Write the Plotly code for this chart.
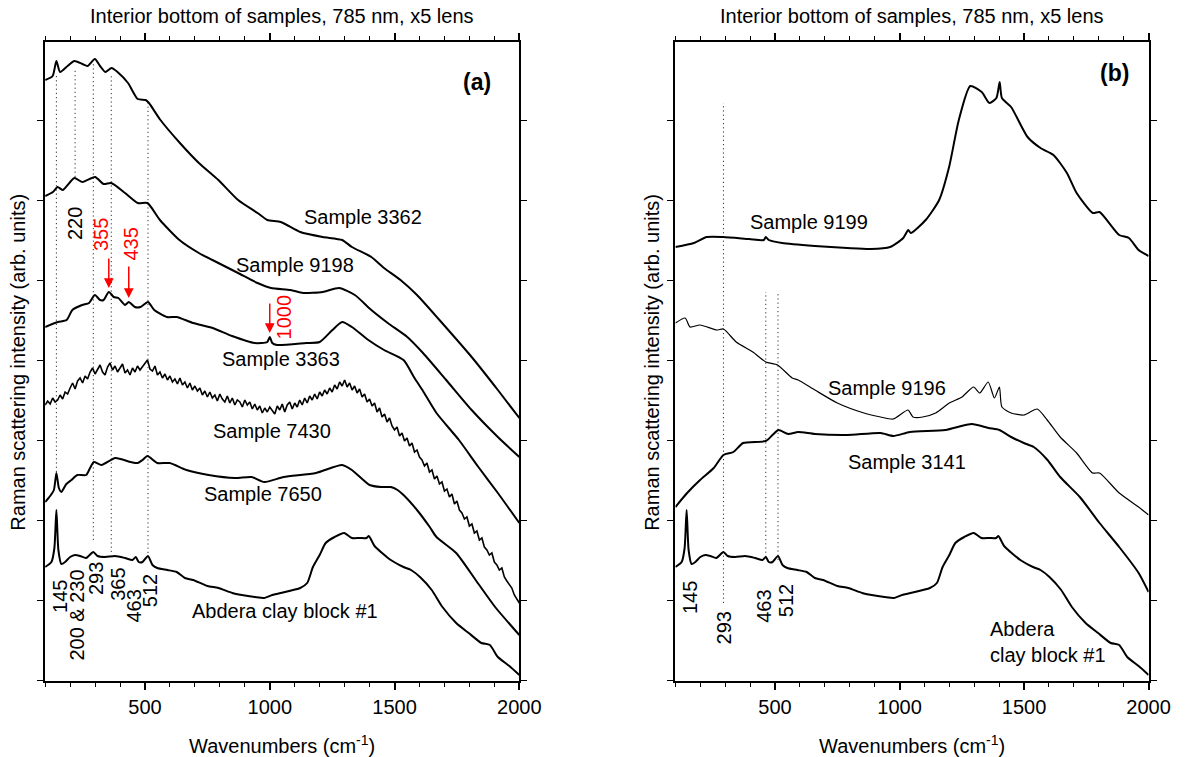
import plotly.graph_objects as go

FONT = "Arial, Liberation Sans, sans-serif"

# ---------------- Panel (a) data : wavenumber (cm-1) / intensity (arb. units)
x_3362 = [100, 130, 145, 160, 190, 217, 249, 270, 299, 320, 341, 366, 390, 432, 471, 503, 516, 562, 640, 716,
          794, 873, 951, 990, 1044, 1122, 1212, 1290, 1329, 1407, 1458, 1524, 1590, 1680, 1809, 1914, 2000]
y_3362 = [601, 605, 620, 609, 615, 620, 617, 615, 622, 615, 609, 613, 609, 598, 582, 581, 578, 561, 538, 518,
          501, 481, 468, 461, 459, 449, 444, 441, 434, 424, 413, 401, 386, 361, 324, 291, 263]

x_9198 = [100, 131, 150, 170, 217, 248, 300, 334, 365, 420, 471, 510, 560, 638, 716, 794, 873, 951, 1005, 1083,
          1134, 1212, 1278, 1341, 1407, 1473, 1551, 1614, 1707, 1809, 1914, 2000]
y_9198 = [485, 489, 494, 491, 503, 499, 504, 497, 498, 488, 478, 478, 461, 441, 428, 418, 408, 398, 393, 391,
          388, 389, 393, 386, 371, 358, 344, 328, 301, 271, 244, 224]

x_3363 = [100, 151, 186, 209, 248, 276, 299, 320, 334, 355, 375, 393, 420, 435, 459, 482, 512, 537, 588, 627,
          693, 771, 849, 939, 990, 1000, 1010, 1029, 1146, 1200, 1251, 1290, 1329, 1395, 1458, 1536, 1580, 1614,
          1668, 1758, 1836, 1914, 2000]
y_3363 = [354, 359, 361, 371, 376, 378, 386, 381, 381, 389, 384, 383, 376, 379, 374, 374, 379, 371, 364, 364,
          358, 353, 345, 338, 339, 344, 338, 336, 338, 339, 351, 359, 354, 341, 331, 321, 303, 290,
          268, 241, 214, 188, 158]

x_7430 = [100, 110, 120, 130, 140, 150, 160, 170, 180, 190, 200, 210, 220, 230, 240, 250, 260, 270, 280, 290,
          300, 310, 320, 330, 340, 350, 360, 370, 380, 390, 400, 410, 420, 430, 440, 450, 460, 470, 480, 490,
          500, 510, 520, 530, 540, 550, 560, 570, 580, 590, 600, 610, 620, 630, 640, 650, 660, 670, 680, 690,
          700, 710, 720, 730, 740, 750, 760, 770, 780, 790, 800, 810, 820, 830, 840, 850, 860, 870, 880, 890,
          900, 910, 920, 930, 940, 950, 960, 970, 980, 990, 1000, 1010, 1020, 1030, 1040, 1050, 1060, 1070,
          1080, 1090, 1100, 1110, 1120, 1130, 1140, 1150, 1160, 1170, 1180, 1190, 1200, 1210, 1220, 1230, 1240,
          1250, 1260, 1270, 1280, 1290, 1300, 1310, 1320, 1330, 1340, 1350, 1360, 1370, 1380, 1390, 1400, 1410,
          1420, 1430, 1440, 1450, 1460, 1470, 1480, 1490, 1500, 1510, 1520, 1530, 1540, 1550, 1560, 1570, 1580,
          1590, 1600, 1610, 1620, 1630, 1640, 1650, 1660, 1670, 1680, 1690, 1700, 1710, 1720, 1730, 1740, 1750,
          1760, 1770, 1780, 1790, 1800, 1810, 1820, 1830, 1840, 1850, 1860, 1870, 1880, 1890, 1900, 1910, 1920,
          1930, 1940, 1950, 1960, 1970, 1980, 1990, 2000]
y_7430 = [276, 280, 277, 283, 279, 281, 286, 282, 289, 287, 293, 298, 292, 300, 303, 298, 305, 302, 309, 313,
          307, 312, 316, 309, 306, 314, 318, 311, 315, 309, 313, 317, 308, 311, 306, 313, 309, 315, 311, 314,
          318, 321, 312, 310, 315, 306, 309, 303, 307, 301, 305, 299, 302, 297, 303, 296, 299, 293, 298, 291,
          295, 290, 293, 286, 290, 284, 289, 283, 286, 280, 287, 282, 279, 285, 278, 283, 276, 281, 279, 274,
          281, 276, 279, 272, 277, 271, 275, 268, 273, 269, 274, 270, 267, 275, 271, 277, 269, 276,
          279, 272, 278, 274, 281, 276, 283, 278, 285, 281, 287, 282, 289, 285, 291, 287, 293,
          289, 296, 292, 299, 295, 301, 294, 298, 291, 295, 288, 292, 284, 287, 279, 282, 275,
          278, 269, 273, 264, 267, 259, 263, 255, 251, 254, 245, 248, 240, 243, 235, 238, 229,
          231, 224, 221, 215, 218, 209, 211, 202, 205, 197, 199, 190, 192, 184, 187, 177, 180,
          171, 168, 162, 164, 155, 157, 148, 150, 141, 143, 134, 131, 126, 128, 119, 116, 111,
          113, 104, 100, 96, 93, 86, 82, 78]

x_7650 = [100, 120, 135, 145, 155, 165, 185, 205, 229, 264, 280, 295, 326, 381, 443, 471, 490, 510, 549, 599,
          666, 755, 861, 927, 978, 1056, 1185, 1290, 1329, 1400, 1446, 1485, 1512, 1536, 1590, 1641, 1668, 1747,
          1825, 1903, 2000]
y_7650 = [179, 185, 191, 208, 193, 189, 197, 201, 206, 206, 213, 219, 216, 223, 219, 218, 221, 225, 218, 218,
          211, 206, 203, 204, 199, 204, 208, 216, 211, 196, 194, 194, 191, 186, 171, 154, 144, 128,
          101, 74, 46]

# Abdera clay block #1 (same spectrum in both panels)
x_abd = [100, 125, 137, 145, 153, 165, 180, 200, 220, 240, 264, 293, 310, 340, 380, 420, 450, 463, 475, 490,
         512, 530, 549, 590, 627, 660, 693, 750, 794, 850, 888, 940, 978, 1010, 1044, 1122, 1150, 1173, 1200,
         1224, 1260, 1298, 1329, 1360, 1388, 1397, 1420, 1485, 1536, 1566, 1602, 1649, 1692, 1747, 1797, 1848,
         1882, 1914, 1960, 2000]
y_abd = [114, 119, 133, 171, 131, 117, 119, 124, 126, 125, 123, 129, 125, 124, 125, 123, 121, 124, 119, 119,
         125, 116, 113, 111, 109, 103, 101, 95, 93, 88, 86, 84, 83, 86, 88, 93, 98, 114, 126,
         138, 144, 148, 143, 143, 143, 145, 135, 121, 114, 111, 104, 91, 74, 58, 48, 38,
         36, 24, 15, 6]

# ---------------- Panel (b) data
x_9199 = [100, 174, 226, 292, 396, 455, 463, 475, 528, 660, 790, 883, 962, 1015, 1035, 1045, 1105, 1159, 1199,
          1238, 1284, 1330, 1361, 1389, 1402, 1411, 1448, 1514, 1566, 1618, 1672, 1711, 1776, 1803, 1882, 1921,
          1960, 2000]
y_9199 = [434, 438, 444, 444, 442, 441, 444, 441, 438, 435, 433, 432, 434, 443, 451, 448, 461, 481, 514,
          561, 595, 589, 578, 583, 599, 583, 574, 544, 533, 526, 508, 488, 468, 469, 446, 443,
          431, 425]

x_9196 = [100, 139, 159, 199, 266, 293, 344, 411, 463, 510, 569, 593, 660, 750, 857, 924, 975, 1034, 1054, 1093,
          1145, 1200, 1251, 1297, 1322, 1356, 1381, 1401, 1411, 1448, 1499, 1553, 1593, 1645, 1711, 1775, 1803,
          1882, 1960, 2000]
y_9196 = [358, 363, 354, 356, 351, 352, 339, 329, 319, 316, 303, 301, 291, 278, 268, 264, 262, 271, 264, 264,
          268, 278, 284, 294, 288, 299, 283, 294, 274, 268, 266, 272, 261, 244, 228, 208, 208,
          188, 174, 166]

x_3141 = [100, 147, 199, 254, 293, 333, 372, 463, 490, 514, 553, 593, 660, 790, 924, 975, 1042, 1184, 1290, 1357,
          1401, 1448, 1499, 1539, 1594, 1645, 1724, 1803, 1882, 1960, 2000]
y_3141 = [174, 188, 201, 213, 226, 229, 238, 240, 246, 251, 247, 249, 247, 246, 248, 245, 249, 251, 257, 253,
          251, 244, 238, 234, 221, 204, 184, 158, 134, 108, 89]

# ---------------- Marker lines (peak positions) and labels
peaks_a = [145, 220, 293, 365, 512]
peaks_a_top = [608, 613, 618, 606, 578]
peaks_a_bot = [209, 504, 141, 129, 128]

peaks_b = [293, 463, 512]
peaks_b_top = [578, 389, 389]
peaks_b_bot = [78, 124, 121]

labels_a_text = ["220", "145", "200 & 230", "293", "365", "463", "512"]
labels_a_x = [220, 159, 226, 304, 391, 458, 521]
labels_a_y = [457, 85, 66, 102, 97, 75, 90]

red_text = ["355", "435", "1000"]
red_text_x = [324, 442, 1059]
red_text_y = [446, 437, 364]
red_arrow_x = [355, 435, 1000]
red_arrow_tail = [424, 416, 379]
red_arrow_tip = [393, 383, 348]

labels_b_text = ["145", "293", "463", "512"]
labels_b_x = [159, 297, 455, 545]
labels_b_y = [83, 53, 75, 80]

names_a = ["Sample 3362", "Sample 9198", "Sample 3363", "Sample 7430", "Sample 7650", "Abdera clay block #1"]
names_a_x = [1374, 1103, 1044, 1008, 973, 1063]
names_a_y = [464, 416, 322, 250, 187, 70]

names_b = ["Sample 9199", "Sample 9196", "Sample 3141"]
names_b_x = [636, 951, 1030]
names_b_y = [459, 293, 219]

W, H = 1202, 757
fig = go.Figure()

def line(x, y, xa, ya, w=2.0, shape="spline"):
    ln = dict(color="black", width=w, shape=shape)
    if shape == "spline":
        ln["smoothing"] = 0.6
    fig.add_trace(go.Scatter(x=x, y=y, mode="lines", xaxis=xa, yaxis=ya,
                             line=ln, showlegend=False, hoverinfo="skip"))

def dots(pk, top, bot, xa, ya):
    for p, t, b in zip(pk, top, bot):
        fig.add_trace(go.Scatter(x=[p, p], y=[b, t], mode="lines", xaxis=xa, yaxis=ya,
                                 line=dict(color="#333", width=1, dash="1.2px,3px"),
                                 showlegend=False, hoverinfo="skip"))

dots(peaks_a, peaks_a_top, peaks_a_bot, "x", "y")
dots(peaks_b, peaks_b_top, peaks_b_bot, "x2", "y2")

line(x_3362, y_3362, "x", "y")
line(x_9198, y_9198, "x", "y")
line(x_3363, y_3363, "x", "y")
line(x_7430, y_7430, "x", "y", 1.6, "linear")
line(x_7650, y_7650, "x", "y")
line(x_abd, y_abd, "x", "y")

line(x_9199, y_9199, "x2", "y2")
line(x_9196, y_9196, "x2", "y2", 1.2)
line(x_3141, y_3141, "x2", "y2")
line(x_abd, y_abd, "x2", "y2")

px = lambda v: v / W
py = lambda v: 1 - v / H

xcommon = dict(range=[100, 2000], tickvals=[500, 1000, 1500, 2000], ticks="outside", ticklen=7, tickwidth=1.5,
               tickcolor="black", showline=True, linecolor="black", linewidth=2, mirror="ticks",
               showgrid=False, zeroline=False, tickfont=dict(family=FONT, size=20, color="black"),
               minor=dict(dtick=100, tick0=0, ticks="outside", ticklen=4, tickwidth=1.2, tickcolor="black"))
ycommon = dict(range=[0, 639], tick0=1, dtick=80, ticks="outside", ticklen=6, tickwidth=1.2, tickcolor="black",
               showline=True, linecolor="black", linewidth=2, mirror="ticks", showgrid=False, zeroline=False,
               showticklabels=False)

fig.update_layout(
    width=W, height=H, margin=dict(l=0, r=0, t=0, b=0),
    paper_bgcolor="white", plot_bgcolor="white",
    xaxis=dict(domain=[px(46), px(529)], anchor="y", **xcommon),
    yaxis=dict(domain=[py(681), py(42)], anchor="x", **ycommon),
    xaxis2=dict(domain=[px(688), px(1170)], anchor="y2", **xcommon),
    yaxis2=dict(domain=[py(681), py(42)], anchor="x2", **ycommon),
)

ann = []
tf = dict(family=FONT, size=20, color="black")
for cx in ((46 + 529) / 2, (688 + 1170) / 2):
    ann.append(dict(xref="paper", yref="paper", x=px(cx), y=py(16), text="Interior bottom of samples, 785 nm, x5 lens",
                    showarrow=False, font=tf, xanchor="center", yanchor="middle"))
    ann.append(dict(xref="paper", yref="paper", x=px(cx), y=py(744), text="Wavenumbers (cm<sup>-1</sup>)",
                    showarrow=False, font=tf, xanchor="center", yanchor="middle"))
for cx in (18, 664):
    ann.append(dict(xref="paper", yref="paper", x=px(cx), y=py(362), text="Raman scattering intensity (arb. units)",
                    showarrow=False, font=tf, textangle=-90, xanchor="center", yanchor="middle"))

ann.append(dict(xref="x", yref="y", x=1830, y=599, text="<b>(a)</b>", showarrow=False,
                font=dict(family=FONT, size=23, color="black")))
ann.append(dict(xref="x2", yref="y2", x=1862, y=608, text="<b>(b)</b>", showarrow=False,
                font=dict(family=FONT, size=23, color="black")))

for t, x, y in zip(labels_a_text, labels_a_x, labels_a_y):
    ann.append(dict(xref="x", yref="y", x=x, y=y, text=t, showarrow=False, textangle=-90, font=tf))
for t, x, y in zip(labels_b_text, labels_b_x, labels_b_y):
    ann.append(dict(xref="x2", yref="y2", x=x, y=y, text=t, showarrow=False, textangle=-90, font=tf))
for t, x, y in zip(red_text, red_text_x, red_text_y):
    ann.append(dict(xref="x", yref="y", x=x, y=y, text=t, showarrow=False, textangle=-90,
                    font=dict(family=FONT, size=20, color="red")))
for x, t0, t1 in zip(red_arrow_x, red_arrow_tail, red_arrow_tip):
    ann.append(dict(xref="x", yref="y", axref="x", ayref="y", x=x, y=t1, ax=x, ay=t0, text="",
                    showarrow=True, arrowhead=2, arrowsize=1.3, arrowwidth=1.5, arrowcolor="red"))
for t, x, y in zip(names_a, names_a_x, names_a_y):
    ann.append(dict(xref="x", yref="y", x=x, y=y, text=t, showarrow=False, font=tf))
for t, x, y in zip(names_b, names_b_x, names_b_y):
    ann.append(dict(xref="x2", yref="y2", x=x, y=y, text=t, showarrow=False, font=tf))
ann.append(dict(xref="x2", yref="y2", x=1357, y=39, text="Abdera<br>clay block #1", showarrow=False,
                font=tf, align="left", xanchor="left", yanchor="middle"))

fig.update_layout(annotations=ann)
fig.write_html("out.html")
